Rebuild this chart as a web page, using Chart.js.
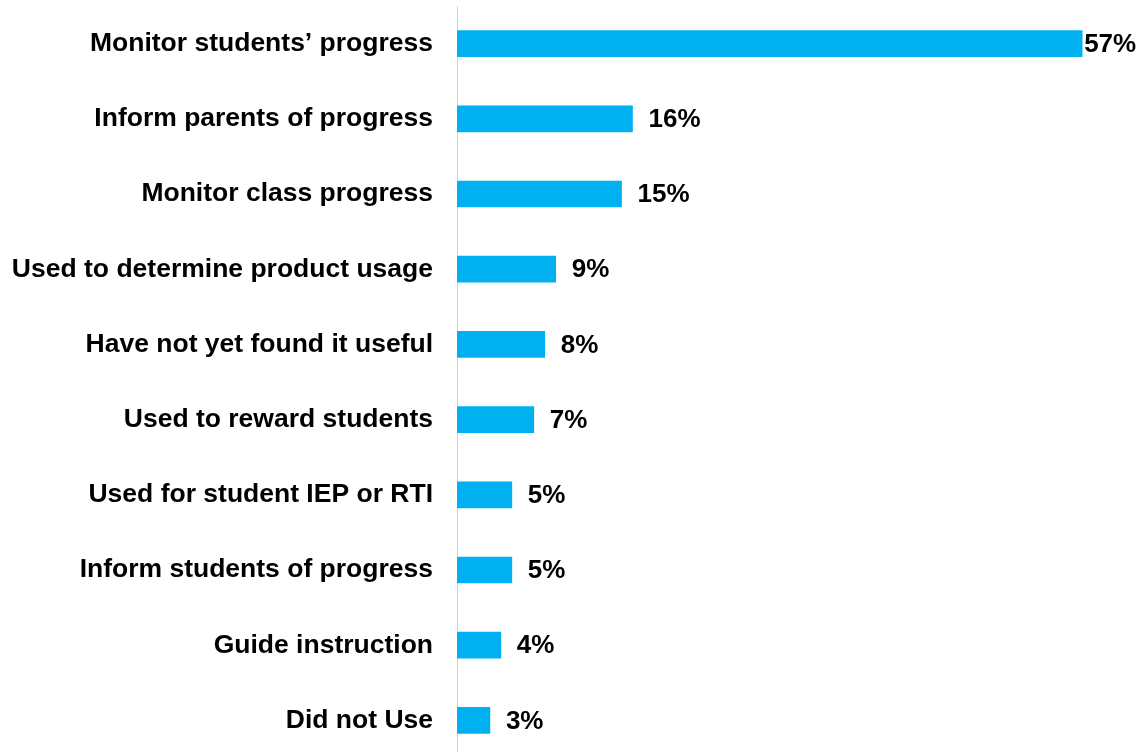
<!DOCTYPE html>
<html>
<head>
<meta charset="utf-8">
<script src="https://cdn.jsdelivr.net/npm/chart.js@4"></script>
<style>
  html, body { margin: 0; padding: 0; background: #fff; overflow: hidden; }
  #wrap { width: 1145px; height: 758px; }
</style>
</head>
<body>
<div id="wrap"><canvas id="usageBar"></canvas></div>
<script>
const categories = [
  "Monitor students\u2019 progress",
  "Inform parents of progress",
  "Monitor class progress",
  "Used to determine product usage",
  "Have not yet found it useful",
  "Used to reward students",
  "Used for student IEP or RTI",
  "Inform students of progress",
  "Guide instruction",
  "Did not Use"
];
const percents = [57, 16, 15, 9, 8, 7, 5, 5, 4, 3];

const fontFamily = "'Liberation Sans', Arial, sans-serif";

// value labels at the end of each bar, pulled back inside if they would overflow
const barValueLabels = {
  id: "barValueLabels",
  afterDatasetsDraw(chart) {
    const ctx = chart.ctx;
    const area = chart.chartArea;
    const meta = chart.getDatasetMeta(0);
    ctx.save();
    ctx.font = "bold 26px " + fontFamily;
    ctx.fillStyle = "#000";
    ctx.textBaseline = "middle";
    ctx.textAlign = "left";
    meta.data.forEach((bar, i) => {
      const txt = percents[i] + "%";
      const w = ctx.measureText(txt).width;
      let x = bar.x + 16;
      if (x + w > area.right) x = bar.x + 2;
      ctx.fillText(txt, x, bar.y + 1);
    });
    ctx.restore();
  }
};

const usageChart = new Chart(document.getElementById("usageBar"), {
  type: "bar",
  data: {
    labels: categories,
    datasets: [
      {
        data: percents,
        backgroundColor: "#00B0F0",
        borderWidth: 0,
        barThickness: 26,
      },
    ],
  },
  options: {
    indexAxis: "y",
    responsive: true,
    maintainAspectRatio: false,
    animation: false,
    layout: { padding: { top: 6, right: 8, bottom: 0, left: 0 } },
    plugins: {
      legend: { display: false },
      tooltip: { enabled: false },
    },
    scales: {
      x: {
        display: false,
        min: 0,
        max: 62,
      },
      y: {
        grid: { display: false, drawTicks: false },
        border: { display: true, color: "#d4d4d4", width: 1 },
        ticks: {
          padding: 24,
          color: "#000",
          font: { family: fontFamily, size: 26.5, weight: "bold" },
        },
        afterFit(scale) {
          scale.width = 457;
          // keep the label half-heights from shrinking the plot vertically
          scale.paddingTop = 0;
          scale.paddingBottom = 0;
        },
      },
    },
  },
  plugins: [barValueLabels],
});
</script>
</body>
</html>
